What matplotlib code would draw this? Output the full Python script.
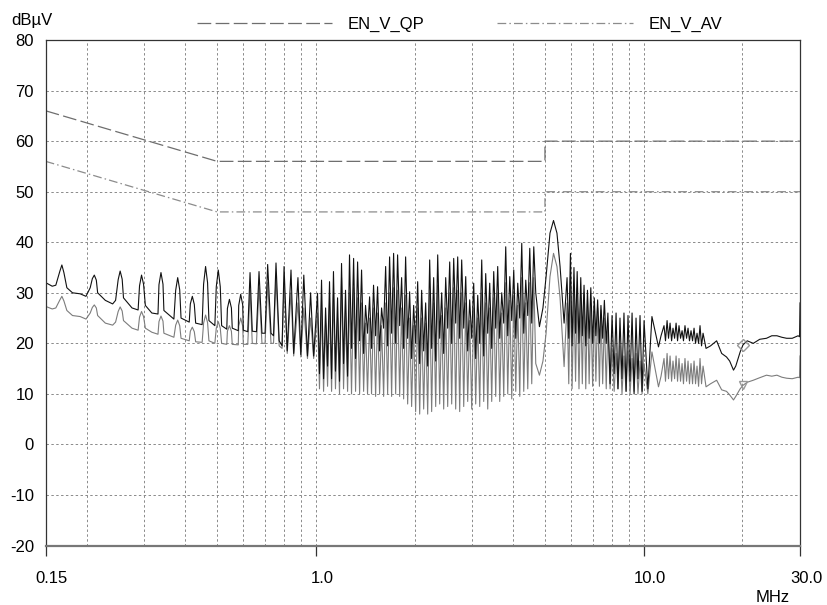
import matplotlib
matplotlib.use("Agg")
import matplotlib.pyplot as plt
import matplotlib.transforms as mtransforms
from matplotlib.lines import Line2D

plt.rcParams['font.family'] = ['Liberation Sans', 'DejaVu Sans']
plt.rcParams['axes.unicode_minus'] = False

# EN 55022 class B limits (conducted, mains)
lim_freq = [0.15, 0.5, 5.0, 5.0, 30.0]
qp_limit = [66, 56, 56, 60, 60]
av_limit = [56, 46, 46, 50, 50]

# measured traces, read off the plot (MHz / dBuV)
# 0.15 - 1 MHz : separate harmonics
freq_lo = [0.150, 0.157, 0.161, 0.1657, 0.168, 0.1704, 0.174, 0.181, 0.191, 0.199,
           0.205, 0.2081, 0.211, 0.2140, 0.216, 0.228, 0.240, 0.245, 0.2495, 0.253,
           0.2566, 0.259, 0.275, 0.287, 0.2899, 0.294, 0.2982, 0.302, 0.316, 0.330,
           0.3323, 0.337, 0.3418, 0.344, 0.369, 0.3737, 0.379, 0.3844, 0.388, 0.411,
           0.4142, 0.420, 0.4259, 0.430, 0.450, 0.4546, 0.461, 0.4675, 0.472, 0.492,
           0.4970, 0.504, 0.5111, 0.516, 0.535, 0.5374, 0.545, 0.5527, 0.556, 0.580,
           0.5818, 0.590, 0.5983, 0.601,
           0.620, 0.630, 0.640, 0.659, 0.671, 0.685, 0.700, 0.713,
           0.730, 0.743, 0.756, 0.773, 0.789, 0.800,
           0.818, 0.840, 0.856, 0.882, 0.900, 0.919, 0.943, 0.964, 0.985]
pk_lo = [32.0, 31.3, 31.5, 34.3, 35.5, 34.0, 31.0, 30.0, 29.8, 29.3,
         31.0, 32.8, 33.5, 32.5, 30.0, 28.5, 27.8, 28.5, 32.6, 34.3,
         32.7, 29.0, 27.0, 26.6, 31.4, 33.5, 31.7, 27.5, 26.0, 25.8,
         31.6, 34.0, 31.7, 26.5, 24.8, 30.5, 33.0, 30.6, 25.0, 24.2,
         27.8, 29.3, 27.7, 24.0, 23.7, 31.7, 35.2, 32.0, 24.5, 23.5,
         31.2, 34.5, 31.2, 23.5, 22.8, 26.9, 28.7, 27.0, 23.0, 22.5,
         27.5, 29.7, 27.6, 22.6,
         22.3, 34.0, 22.4, 22.3, 34.2, 22.0, 22.0, 35.6,
         22.0, 21.5, 35.9, 20.5, 19.5, 35.2,
         18.5, 34.5, 18.0, 33.0, 17.8, 33.5, 17.5, 30.0, 17.5]
av_lo = [27.3, 26.8, 27.0, 28.6, 29.3, 28.4, 26.5, 25.5, 25.3, 24.8,
         26.0, 27.1, 27.6, 27.0, 25.5, 24.0, 23.6, 24.2, 26.3, 27.2,
         26.4, 24.5, 23.0, 22.6, 25.2, 26.3, 25.3, 23.0, 22.2, 21.8,
         24.3, 25.4, 24.4, 22.0, 21.2, 23.6, 24.6, 23.5, 21.0, 20.5,
         22.4, 23.2, 22.3, 20.3, 20.2, 24.0, 25.6, 24.1, 20.5, 20.0,
         23.0, 24.3, 23.0, 20.0, 19.8, 22.4, 23.5, 22.4, 19.8, 19.7,
         23.4, 25.0, 23.4, 19.8,
         19.8, 30.5, 20.0, 19.9, 31.0, 20.0, 20.0, 32.0,
         20.0, 20.0, 33.0, 19.5, 19.0, 32.0,
         18.0, 30.0, 17.5, 28.0, 17.3, 27.0, 17.0, 25.0, 17.0]

# 1 - 4.7 MHz : dense comb, peak / dip pairs
freq_mid = [1.012, 1.026, 1.041, 1.056, 1.071, 1.086, 1.101, 1.117, 1.132, 1.148,
            1.165, 1.181, 1.198, 1.215, 1.232, 1.250, 1.267, 1.285, 1.304, 1.322,
            1.341, 1.360, 1.379, 1.399, 1.418, 1.438, 1.459, 1.479, 1.500, 1.522,
            1.543, 1.565, 1.587, 1.610, 1.633, 1.656, 1.679, 1.703, 1.727, 1.752,
            1.776, 1.802, 1.827, 1.853, 1.879, 1.906, 1.933, 1.960, 1.988, 2.016,
            2.045, 2.074, 2.103, 2.133, 2.163, 2.194, 2.225, 2.256, 2.288, 2.321,
            2.354, 2.387, 2.421, 2.455, 2.490, 2.525, 2.561, 2.597, 2.634, 2.671,
            2.709, 2.747, 2.786, 2.826, 2.866, 2.906, 2.947, 2.989, 3.031, 3.074,
            3.118, 3.162, 3.207, 3.252, 3.298, 3.345, 3.392, 3.440, 3.489, 3.538,
            3.588, 3.639, 3.691, 3.743, 3.796, 3.850, 3.905, 3.960, 4.016, 4.073,
            4.130, 4.189, 4.248, 4.308, 4.369, 4.431, 4.494, 4.557, 4.622, 4.687]
pk_mid = [29.9, 14.0, 32.5, 13.0, 27.0, 15.5, 32.2, 13.0, 34.2, 14.5,
          29.0, 12.5, 35.8, 16.0, 30.5, 13.5, 37.5, 19.0, 36.8, 17.0,
          36.1, 20.5, 34.5, 18.0, 27.5, 22.0, 29.2, 19.0, 31.5, 21.5,
          31.2, 18.5, 27.0, 23.0, 35.2, 19.5, 37.1, 22.0, 37.8, 20.0,
          37.5, 23.5, 33.0, 19.0, 37.1, 21.0, 30.2, 17.0, 27.5, 20.0,
          32.2, 16.0, 30.5, 18.5, 28.0, 15.5, 36.5, 19.0, 33.0, 16.5,
          37.5, 21.0, 30.0, 18.0, 33.0, 23.0, 36.1, 20.0, 36.8, 24.0,
          37.1, 21.0, 36.5, 23.0, 33.2, 18.5, 28.6, 21.0, 31.9, 17.0,
          29.5, 20.0, 36.5, 17.5, 33.8, 22.0, 31.9, 19.0, 34.2, 23.0,
          35.2, 21.0, 30.0, 24.0, 39.1, 21.5, 33.2, 24.5, 34.5, 21.0,
          31.9, 25.0, 39.8, 22.0, 32.5, 25.5, 38.8, 24.0, 39.1, 30.0]
av_mid = [26.0, 11.0, 27.0, 10.5, 24.0, 11.5, 28.0, 10.5, 30.0, 11.0,
          25.0, 10.0, 33.0, 11.0, 26.0, 10.5, 30.0, 10.0, 31.0, 10.5,
          29.0, 10.0, 28.0, 10.5, 24.0, 10.0, 25.0, 10.0, 27.0, 9.5,
          26.0, 10.0, 23.5, 9.5, 28.0, 10.0, 30.0, 9.5, 31.0, 10.0,
          30.5, 9.5, 27.0, 9.0, 29.5, 8.0, 25.0, 7.5, 23.5, 6.5,
          27.0, 6.0, 25.0, 7.0, 24.0, 6.0, 30.0, 6.5, 28.0, 7.5,
          31.5, 8.0, 25.5, 7.0, 27.0, 7.5, 30.0, 8.0, 31.0, 7.0,
          30.5, 6.5, 30.0, 7.5, 28.0, 8.5, 24.5, 7.0, 27.0, 8.0,
          25.0, 7.5, 30.0, 8.5, 28.0, 7.0, 27.0, 8.5, 29.0, 9.5,
          30.0, 8.5, 26.0, 9.5, 32.0, 10.0, 28.5, 9.0, 29.5, 10.5,
          27.5, 9.5, 33.0, 10.5, 28.0, 11.0, 32.0, 12.0, 33.0, 16.0]

# 4.8 - 30 MHz
freq_hi = [4.81, 4.93, 5.04, 5.18, 5.31, 5.44, 5.56, 5.72,
           5.84, 5.91, 5.98, 6.05, 6.13, 6.20, 6.27, 6.35, 6.43, 6.50,
           6.58, 6.66, 6.74, 6.82, 6.90, 6.99, 7.07, 7.15, 7.24, 7.33,
           7.41, 7.50, 7.59, 7.69, 7.78,
           7.90, 8.01, 8.13, 8.24, 8.35, 8.47, 8.59, 8.71, 8.84, 8.96,
           9.09, 9.22, 9.35, 9.48, 9.61, 9.75, 9.89, 10.03,
           10.3, 10.6, 11.1, 11.3,
           11.54, 11.66, 11.79, 11.91, 12.04, 12.17, 12.29, 12.43, 12.56, 12.69,
           12.82, 12.96, 13.10, 13.23, 13.37, 13.52, 13.66, 13.80, 13.95, 14.10,
           14.25, 14.40, 14.55, 14.71, 14.86, 15.02, 15.18,
           15.5, 16.0, 16.7, 17.3, 17.9, 18.3, 18.8, 19.1, 19.7, 20.1,
           20.7, 21.6, 22.6, 23.7, 24.6, 25.5, 26.4, 27.3, 28.4, 29.6,
           29.9, 30.0]
pk_hi = [23.3, 27.0, 33.2, 41.8, 44.3, 41.8, 35.2, 24.0,
         33.0, 21.0, 37.8, 19.5, 35.0, 22.0, 34.2, 20.0, 33.0, 21.5,
         31.5, 19.5, 30.5, 21.0, 31.0, 20.0, 29.0, 21.5, 28.6, 20.0,
         27.5, 21.0, 28.5, 20.0, 26.0,
         12.0, 25.5, 14.0, 26.0, 11.0, 25.0, 13.0, 26.0, 10.5, 25.5,
         12.5, 26.0, 10.0, 25.0, 13.0, 25.5, 10.5, 24.5,
         11.0, 25.3, 19.3, 21.5,
         23.5, 20.5, 24.5, 21.0, 24.0, 20.5, 23.0, 21.0, 24.0, 20.5,
         23.5, 21.0, 22.5, 20.5, 23.5, 21.0, 23.0, 20.5, 22.5, 20.5,
         23.0, 20.0, 22.0, 20.0, 23.5, 19.5, 22.0,
         19.0, 19.5, 20.5, 18.0, 17.3, 16.5, 14.7, 15.5, 18.3, 19.7,
         20.5, 20.0, 20.8, 21.0, 21.5, 21.5, 21.2, 21.0, 21.0, 21.5,
         21.3, 28.0]
av_hi = [13.7, 16.5, 22.0, 33.2, 37.8, 35.2, 29.0, 15.4,
         28.0, 12.0, 33.2, 11.0, 30.0, 12.5, 31.0, 11.0, 29.0, 12.0,
         30.0, 11.0, 28.6, 12.0, 28.0, 11.5, 27.5, 12.5, 27.0, 11.5,
         26.6, 12.0, 25.0, 11.0, 24.0,
         11.0, 19.0, 10.5, 18.0, 11.0, 19.5, 10.0, 17.5, 10.5, 18.5,
         10.0, 17.0, 10.5, 18.0, 10.0, 16.5, 10.0, 16.0,
         10.0, 18.3, 11.4, 13.5,
         17.0, 12.5, 18.0, 13.0, 17.5, 12.5, 16.5, 13.0, 17.5, 12.5,
         17.0, 12.5, 16.0, 12.0, 17.0, 12.5, 16.5, 12.0, 16.0, 12.0,
         16.5, 12.0, 15.5, 11.5, 17.0, 12.0, 15.5,
         11.4, 12.0, 12.7, 10.8, 10.5, 9.8, 8.8, 9.5, 11.0, 11.7,
         12.3, 12.7, 13.2, 13.7, 13.5, 13.7, 13.3, 13.1, 13.0, 13.3,
         13.2, 17.5]

# final-measurement markers
mark_freq = [20.1]
mark_qp = [19.7]
mark_av = [11.7]

freq = freq_lo + freq_mid + freq_hi
pk = pk_lo + pk_mid + pk_hi
av = av_lo + av_mid + av_hi

fig = plt.figure(figsize=(8.27, 6.05), dpi=100)
ax = fig.add_axes([0.0553, 0.0983, 0.9121, 0.8355])
ax.set_xscale('log')

ax.plot(freq, av, color='#7c7c7c', lw=0.8)
ax.plot(freq, pk, color='#111111', lw=0.8)

qp_line, = ax.plot(lim_freq, qp_limit, color='#6e6e6e', lw=0.9)
qp_line.set_dashes([11, 3.5])
av_line, = ax.plot(lim_freq, av_limit, color='#8c8c8c', lw=0.9)
av_line.set_dashes([7, 2.5, 1.2, 2.5])

ax.plot(mark_freq, mark_qp, marker='D', ms=6, mfc='none', mec='#999999', ls='none')
ax.plot(mark_freq, mark_av, marker='v', ms=6, mfc='none', mec='#999999', ls='none')

ax.set_xlim(0.15, 30)
ax.set_ylim(-20, 80)
ax.set_yticks(range(-20, 81, 10))
ax.set_xticks([0.15, 1, 10, 30])
ax.set_xticklabels(['0.15', '1.0', '10.0', '30.0'])
ax.set_xticks([0.2, 0.3, 0.4, 0.5, 0.6, 0.7, 0.8, 0.9,
               2, 3, 4, 5, 6, 7, 8, 9, 20], minor=True)
ax.set_xticklabels([], minor=True)

ax.grid(which='both', color='#8a8a8a', linestyle=(0, (2.5, 2.5)), linewidth=0.7)
ax.set_axisbelow(True)

ax.tick_params(axis='x', which='major', direction='out', length=7, width=0.9,
               color='#333333', pad=11, labelsize=12)
ax.tick_params(axis='x', which='minor', length=0)
ax.tick_params(axis='y', length=0, pad=8.5, labelsize=12)

shift = mtransforms.ScaledTranslation(6 / 100, 0, fig.dpi_scale_trans)
for lab in ax.get_xticklabels():
    lab.set_transform(lab.get_transform() + shift)

for s in ['top', 'left', 'right']:
    ax.spines[s].set_color('#333333')
    ax.spines[s].set_linewidth(0.9)
ax.spines['bottom'].set_color('#777777')
ax.spines['bottom'].set_linewidth(1.6)

fig.text(11 / 827, 1 - 21 / 605, 'dBµV', fontsize=12, ha='left', va='center')
fig.text(773 / 827, 1 - 597 / 605, 'MHz', fontsize=12, ha='center', va='center')

# legend on top
l1 = Line2D([197 / 827, 332 / 827], [1 - 23 / 605] * 2, transform=fig.transFigure,
            color='#6e6e6e', lw=0.9)
l1.set_dashes([11, 3.5])
fig.add_artist(l1)
fig.text(348 / 827, 1 - 24 / 605, 'EN_V_QP', fontsize=12, ha='left', va='center')
l2 = Line2D([497 / 827, 633 / 827], [1 - 23 / 605] * 2, transform=fig.transFigure,
            color='#8c8c8c', lw=0.9)
l2.set_dashes([7, 2.5, 1.2, 2.5])
fig.add_artist(l2)
fig.text(649 / 827, 1 - 24 / 605, 'EN_V_AV', fontsize=12, ha='left', va='center')

fig.savefig('out.png', dpi=100)
